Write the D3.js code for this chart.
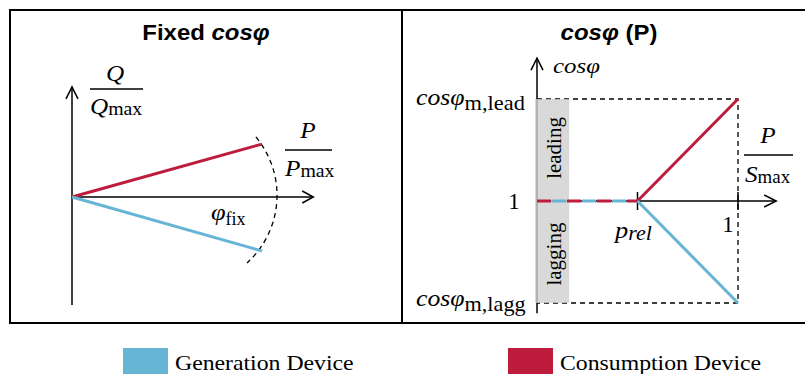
<!DOCTYPE html>
<html>
<head>
<meta charset="utf-8">
<script src="https://cdn.jsdelivr.net/npm/d3@7"></script>
<style>
  html, body { margin: 0; padding: 0; background: #fff; }
  svg { display: block; }
</style>
</head>
<body>
<svg id="chart" width="805" height="374"></svg>
<script>
// ---- series: fixed cos(phi) characteristic, P/Pmax vs Q/Qmax ----
const fixedP = [0, 1];
const fixedQConsumption = [0, 0.49];
const fixedQGeneration = [0, -0.5];
// dashed arc marking phi_fix (three points on the arc, P/Pmax, Q/Qmax)
const fixedArcP = [0.968, 1.079, 0.921];
const fixedArcQ = [0.556, 0, -0.611];

// ---- series: cos(phi)(P) characteristic, P/Smax vs cos(phi) level ----
// level: 1 = cos(phi) m,lead ; 0 = unity ; -1 = cos(phi) m,lagg
const pRel = 0.5;
const curveP = [0, pRel, 1];
const curveConsumption = [0, 0, 1];
const curveGeneration = [0, 0, -1];
const bandWidthP = 0.16;

const legendLabels = ["Generation Device", "Consumption Device"];
const colors = { gen: "#67b5d5", con: "#be1c3d" };

const svg = d3.select("#chart");
const MATH = "'Liberation Serif', 'DejaVu Serif', serif";
const SANS = "'Liberation Sans', Arial, sans-serif";

// outer frame and divider
svg.append("rect").attr("x", 10).attr("y", 10).attr("width", 810).attr("height", 313)
  .attr("fill", "none").attr("stroke", "#000").attr("stroke-width", 2);
svg.append("line").attr("x1", 402).attr("x2", 402).attr("y1", 10).attr("y2", 323)
  .attr("stroke", "#000").attr("stroke-width", 2);

// helper: a formula laid out piece by piece (symbol, subscript ...),
// each piece with its own size, style and horizontal stretch
function mathText(g, x, y, parts, anchor) {
  const grp = g.append("g");
  let cursor = 0;
  parts.forEach(p => {
    const sx = p.sx || 1;
    const holder = grp.append("g").attr("transform", `translate(${cursor},${p.dy || 0}) scale(${sx},1)`);
    const t = holder.append("text").text(p.t)
      .attr("font-family", p.family || MATH)
      .attr("font-size", p.size)
      .attr("font-style", p.italic ? "italic" : "normal")
      .attr("fill", "#000");
    cursor += t.node().getComputedTextLength() * sx;
  });
  const shift = anchor === "middle" ? -cursor / 2 : 0;
  grp.attr("transform", `translate(${x + shift},${y})`);
  return grp;
}
function arrowHead(g, x, y, dir, len, half) {
  // open chevron arrow head
  let pts;
  if (dir === "up") pts = [[x - half, y + len], [x, y], [x + half, y + len]];
  else pts = [[x - len, y - half], [x, y], [x - len, y + half]];
  g.append("path").attr("d", d3.line()(pts)).attr("fill", "none")
    .attr("stroke", "#000").attr("stroke-width", 1.5);
}
function title(g, x, y, parts) {
  const t = g.append("g").attr("transform", `translate(${x},${y}) scale(1.09,1)`)
    .append("text").attr("text-anchor", "middle")
    .attr("font-family", SANS).attr("font-weight", "bold").attr("font-size", 22);
  parts.forEach(p => t.append("tspan").text(p.t).attr("font-style", p.italic ? "italic" : "normal"));
}
function fractionBar(g, x1, x2, y) {
  g.append("line").attr("x1", x1).attr("x2", x2).attr("y1", y).attr("y2", y)
    .attr("stroke", "#000").attr("stroke-width", 1.5);
}

// ================= left panel =================
{
  const g = svg.append("g");
  const x = d3.scaleLinear().domain([0, 1]).range([72, 262]);
  const y = d3.scaleLinear().domain([-1, 1]).range([305, 89]);

  title(g, 206, 40, [{ t: "Fixed " }, { t: "cosφ", italic: true }]);

  // axes
  g.append("line").attr("x1", x(0)).attr("x2", x(0)).attr("y1", y(-1)).attr("y2", y(1.02))
    .attr("stroke", "#000").attr("stroke-width", 1.5);
  g.append("line").attr("x1", x(0)).attr("x2", x(1.27)).attr("y1", y(0)).attr("y2", y(0))
    .attr("stroke", "#000").attr("stroke-width", 1.5);
  arrowHead(g, x(0), y(1.02), "up", 12, 6);
  arrowHead(g, x(1.27), y(0), "right", 11, 6);

  // dashed arc through three points
  const [A, B, C] = fixedArcP.map((p, i) => [x(p), y(fixedArcQ[i])]);
  const d = 2 * (A[0] * (B[1] - C[1]) + B[0] * (C[1] - A[1]) + C[0] * (A[1] - B[1]));
  const sa = A[0] ** 2 + A[1] ** 2, sb = B[0] ** 2 + B[1] ** 2, sc = C[0] ** 2 + C[1] ** 2;
  const cx = (sa * (B[1] - C[1]) + sb * (C[1] - A[1]) + sc * (A[1] - B[1])) / d;
  const cy = (sa * (C[0] - B[0]) + sb * (A[0] - C[0]) + sc * (B[0] - A[0])) / d;
  const r = Math.hypot(A[0] - cx, A[1] - cy);
  g.append("path")
    .attr("d", `M${A[0]},${A[1]} A${r},${r} 0 0 1 ${C[0]},${C[1]}`)
    .attr("fill", "none").attr("stroke", "#000").attr("stroke-width", 1.3)
    .attr("stroke-dasharray", "5,4");

  const line = d3.line().x((d, i) => x(fixedP[i])).y(d => y(d));
  g.append("path").attr("d", line(fixedQConsumption)).attr("fill", "none")
    .attr("stroke", colors.con).attr("stroke-width", 3);
  g.append("path").attr("d", line(fixedQGeneration)).attr("fill", "none")
    .attr("stroke", colors.gen).attr("stroke-width", 3);

  // axis labels as fractions
  mathText(g, 115, 81, [{ t: "Q", italic: true, size: 24, sx: 1.05 }], "middle");
  fractionBar(g, 90, 143, 89);
  mathText(g, 90, 114, [{ t: "Q", italic: true, size: 24, sx: 1.05 }, { t: "max", size: 18, dy: 1, sx: 1.1 }]);

  mathText(g, 308, 138, [{ t: "P", italic: true, size: 24, sx: 1.05 }], "middle");
  fractionBar(g, 285, 332, 150);
  mathText(g, 285, 176, [{ t: "P", italic: true, size: 24, sx: 1.05 }, { t: "max", size: 18, dy: 1, sx: 1.1 }]);

  mathText(g, 211, 220, [{ t: "φ", italic: true, size: 24, sx: 1.1 }, { t: "fix", size: 18, dy: 5 }]);
}

// ================= right panel =================
{
  const g = svg.append("g");
  const x = d3.scaleLinear().domain([0, 1]).range([537, 738]);
  const y = d3.scaleLinear().domain([-1, 1]).range([303, 99]);

  title(g, 609, 40, [{ t: "cosφ", italic: true }, { t: " (P)" }]);

  // axes
  g.append("line").attr("x1", x(0)).attr("x2", x(0)).attr("y1", y(-1.1)).attr("y2", y(1.4))
    .attr("stroke", "#000").attr("stroke-width", 1.5);
  g.append("line").attr("x1", x(0)).attr("x2", x(1.19)).attr("y1", y(0)).attr("y2", y(0))
    .attr("stroke", "#000").attr("stroke-width", 1.5);
  arrowHead(g, x(0), y(1.4), "up", 12, 6);
  arrowHead(g, x(1.19), y(0), "right", 12, 6);
  [pRel, 1].forEach(p => g.append("line").attr("x1", x(p)).attr("x2", x(p))
    .attr("y1", y(0) - 9).attr("y2", y(0) + 9).attr("stroke", "#000").attr("stroke-width", 1.5));

  // dashed limit box
  g.append("path")
    .attr("d", `M${x(0)},${y(1)} H${x(1)} V${y(-1)} H${x(0)}`)
    .attr("fill", "none").attr("stroke", "#000").attr("stroke-width", 1.3)
    .attr("stroke-dasharray", "5,4");

  // shaded leading / lagging band
  g.append("rect").attr("x", x(0) - 2).attr("y", y(1)).attr("width", x(bandWidthP) - x(0) + 2)
    .attr("height", y(-1) - y(1)).attr("fill", "#cfcfcf").attr("fill-opacity", 0.8);
  [["leading", 0.52], ["lagging", -0.52]].forEach(([txt, lvl]) =>
    g.append("text").text(txt)
      .attr("transform", `translate(${x(0) + 24},${y(lvl)}) rotate(-90)`)
      .attr("text-anchor", "middle").attr("font-family", MATH).attr("font-size", 21));

  // shared unity section drawn as alternating red / blue dashes
  const flat = d3.line()([[x(curveP[0]), y(curveConsumption[0])], [x(curveP[1]), y(curveConsumption[1])]]);
  g.append("path").attr("d", flat).attr("stroke", colors.gen).attr("stroke-width", 3)
    .attr("stroke-dasharray", "14,16").attr("stroke-dashoffset", -15);
  g.append("path").attr("d", flat).attr("stroke", colors.con).attr("stroke-width", 3)
    .attr("stroke-dasharray", "14,16");
  // diverging branches above p_rel
  const rise = d3.line()(curveP.slice(1).map((p, i) => [x(p), y(curveConsumption[i + 1])]));
  const fall = d3.line()(curveP.slice(1).map((p, i) => [x(p), y(curveGeneration[i + 1])]));
  g.append("path").attr("d", rise).attr("fill", "none").attr("stroke", colors.con).attr("stroke-width", 3);
  g.append("path").attr("d", fall).attr("fill", "none").attr("stroke", colors.gen).attr("stroke-width", 3);

  // labels
  mathText(g, 553, 73, [{ t: "cosφ", italic: true, size: 22, sx: 1.13 }]);
  mathText(g, 416, 105, [{ t: "cosφ", italic: true, size: 23, sx: 1.12 }, { t: "m,lead", size: 20, dy: 5, sx: 1.12 }]);
  mathText(g, 416, 306, [{ t: "cosφ", italic: true, size: 23, sx: 1.12 }, { t: "m,lagg", size: 20, dy: 5, sx: 1.11 }]);
  mathText(g, 514, 209, [{ t: "1", size: 23 }], "middle");
  mathText(g, 728, 232, [{ t: "1", size: 23 }], "middle");
  mathText(g, 615, 238, [{ t: "p", italic: true, size: 24, sx: 1.1 }, { t: "rel", italic: true, size: 20, dy: 2, sx: 1.1 }]);

  mathText(g, 768, 143, [{ t: "P", italic: true, size: 24, sx: 1.05 }], "middle");
  fractionBar(g, 744, 793, 155);
  mathText(g, 745, 182, [{ t: "S", italic: true, size: 24, sx: 1.05 }, { t: "max", size: 18, dy: 1, sx: 1.05 }]);
}

// ================= legend =================
{
  const g = svg.append("g");
  const items = [
    { label: legendLabels[0], color: colors.gen, x: 123 },
    { label: legendLabels[1], color: colors.con, x: 508 }
  ];
  items.forEach(it => {
    g.append("rect").attr("x", it.x).attr("y", 348).attr("width", 45).attr("height", 27)
      .attr("fill", it.color);
    mathText(g, it.x + 52, 370, [{ t: it.label, size: 22, sx: 1.08 }]);
  });
}
</script>
</body>
</html>
